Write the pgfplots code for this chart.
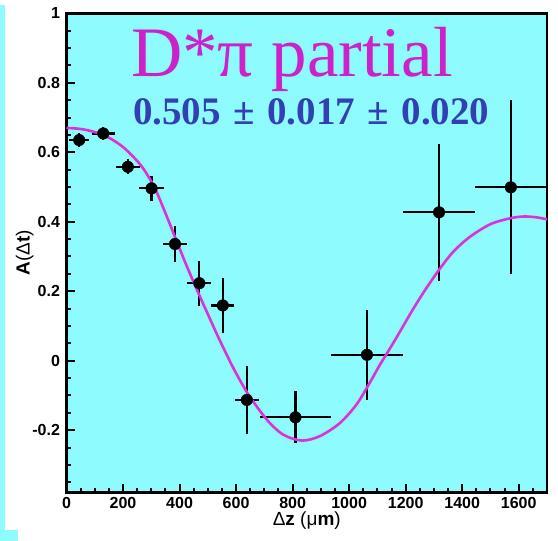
\documentclass[border=0pt]{standalone}
\usepackage{pgfplots}
\pgfplotsset{compat=1.18}
\usepackage{pgfplotstable}
\usepackage{fontspec}
\setmainfont{Liberation Serif}
\setsansfont{Liberation Sans}
\definecolor{bgcyan}{RGB}{142,252,255}
\definecolor{magtext}{RGB}{204,34,204}
\definecolor{magline}{RGB}{220,50,220}
\definecolor{bluetext}{RGB}{50,64,180}

\pgfplotstableread{
x y ex ey
45 0.635 35 0.020
130 0.654 40 0.020
217 0.558 43 0.022
301 0.496 43 0.035
384 0.336 43 0.052
470 0.223 43 0.065
553 0.159 41 0.078
638 -0.113 43 0.097
810 -0.163 127 0.075
1063 0.017 128 0.130
1318 0.427 127 0.198
1572 0.499 128 0.250
}\datatable

\pgfplotstableread{
x y
0 0.670
50 0.667
100 0.658
150 0.642
200 0.615
250 0.575
280 0.543
313 0.496
350 0.425
384 0.356
420 0.283
461 0.205
494 0.145
530 0.080
561 0.027
596 -0.030
644 -0.098
709 -0.170
767 -0.213
833 -0.230
897 -0.217
968 -0.179
1027 -0.125
1074 -0.062
1110 -0.010
1127 0.012
1170 0.070
1220 0.140
1270 0.205
1322 0.266
1370 0.315
1428 0.357
1500 0.393
1570 0.410
1617 0.415
1660 0.413
1700 0.407
}\fittable

\begin{document}
\begin{tikzpicture}
\useasboundingbox (0pt,0pt) rectangle (558pt,541pt);
\fill[bgcyan] (0pt,11pt) rectangle (5pt,536pt);
\fill[bgcyan] (0pt,0pt) rectangle (18pt,11pt);
\begin{axis}[
  at={(66.5pt,48.3pt)}, anchor=south west,
  scale only axis, width=480.5pt, height=479.4pt,
  xmin=0, xmax=1700, ymin=-0.38, ymax=1,
  axis background/.style={fill=bgcyan},
  axis line style={line width=2.6pt, black},
  xtick={0,200,400,600,800,1000,1200,1400,1600},
  ytick={-0.2,0,0.2,0.4,0.6,0.8,1},
  minor xtick={50,100,150,250,300,350,450,500,550,650,700,750,850,900,950,1050,1100,1150,1250,1300,1350,1450,1500,1550,1650},
  minor ytick={-0.35,-0.3,-0.25,-0.15,-0.1,-0.05,0.05,0.1,0.15,0.25,0.3,0.35,0.45,0.5,0.55,0.65,0.7,0.75,0.85,0.9,0.95},
  xtick pos=bottom, ytick pos=left,
  tick align=inside,
  major tick length=9pt, minor tick length=4.5pt,
  every tick/.style={black, line width=2pt},
  /pgf/number format/assume math mode=true,
  /pgf/number format/set thousands separator={},
  ticklabel style={font=\sffamily\bfseries\fontsize{16}{16}\selectfont},
  yticklabel style={/pgf/number format/fixed, xshift=-3pt},
  xticklabel style={yshift=-1pt},
  xlabel={Δ\textbf{z} (μ\textbf{m})},
  ylabel={\textbf{A}(Δ\textbf{t})},
  label style={font=\sffamily\fontsize{19}{19}\selectfont},
  xlabel style={at={(axis description cs:0.5,-0.058)}, anchor=center},
  ylabel style={at={(axis description cs:-0.087,0.5)}, anchor=center},
]
\addplot[only marks, mark=*, mark size=5.8pt, black,
  error bars/.cd, x dir=both, x explicit, y dir=both, y explicit,
  error mark=none, error bar style={line width=2.2pt, black}]
  table[x=x, y=y, x error=ex, y error=ey] {\datatable};
\addplot[magline, line width=2.6pt, smooth, no marks] table[x=x, y=y] {\fittable};
\end{axis}
\node[anchor=base west, inner sep=0pt, text=magtext, font=\fontsize{71}{71}\selectfont] at (131pt,464.3pt) {D*π partial};
\node[anchor=base west, inner sep=0pt, text=bluetext, font=\bfseries\fontsize{39}{39}\selectfont] at (133pt,416pt) {0.505\hspace{12.5pt}±\hspace{12.5pt}0.017\hspace{12.5pt}±\hspace{12.5pt}0.020};
\end{tikzpicture}
\end{document}
